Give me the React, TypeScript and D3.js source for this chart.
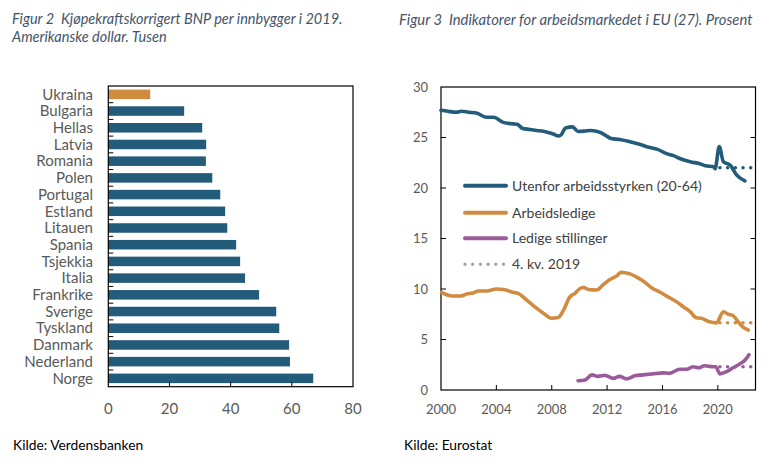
import * as d3 from "d3";

// Figur 2: BNP per innbygger (PPP), tusen USD, 2019
const COUNTRIES = [
  "Ukraina", "Bulgaria", "Hellas", "Latvia", "Romania", "Polen", "Portugal", "Estland", "Litauen",
  "Spania", "Tsjekkia", "Italia", "Frankrike", "Sverige", "Tyskland", "Danmark", "Nederland", "Norge",
];
const GDP = [13.7, 24.8, 30.7, 32.0, 31.9, 34.0, 36.6, 38.2, 38.9, 41.8, 43.1, 44.7, 49.3, 54.9, 55.9, 59.1, 59.4, 67.0];
const GDP_TICKS = [0, 20, 40, 60, 80];

// Figur 3: arbeidsmarkedet i EU (27), prosent
const UTENFOR: [number, number][] = [
  [2000.0, 27.7], [2000.5, 27.6], [2001.1, 27.5], [2001.5, 27.6], [2002.0, 27.5], [2002.6, 27.4],
  [2003.3, 27.0], [2003.8, 27.0], [2004.5, 26.5], [2004.9, 26.4], [2005.2, 26.35], [2005.5, 26.3],
  [2005.9, 25.9], [2006.4, 25.8], [2006.9, 25.7], [2007.6, 25.55], [2008.1, 25.35], [2008.5, 25.15],
  [2008.7, 25.3], [2009.0, 25.95], [2009.5, 26.05], [2009.9, 25.6], [2010.4, 25.65], [2010.8, 25.7],
  [2011.5, 25.5], [2011.9, 25.2], [2012.3, 24.9], [2012.9, 24.8], [2013.6, 24.6], [2014.0, 24.45],
  [2014.4, 24.3], [2015.1, 24.0], [2015.6, 23.85], [2016.3, 23.4], [2016.8, 23.2], [2017.3, 22.9],
  [2018.0, 22.6], [2018.7, 22.4], [2019.1, 22.2], [2019.7, 22.1], [2019.8, 21.9], [2020.1, 24.1],
  [2020.4, 22.6], [2020.9, 22.25], [2021.35, 21.3], [2021.95, 20.7],
];
const ARBEIDSLEDIGE: [number, number][] = [
  [2000.05, 9.66], [2000.8, 9.3], [2001.4, 9.3], [2001.85, 9.5], [2002.3, 9.6], [2002.7, 9.8],
  [2003.3, 9.8], [2004.0, 10.0], [2004.7, 9.9], [2005.1, 9.7], [2005.6, 9.55], [2006.2, 8.9],
  [2006.9, 8.1], [2007.3, 7.7], [2008.0, 7.1], [2008.5, 7.2], [2008.85, 7.9], [2009.3, 9.2],
  [2009.65, 9.55], [2010.05, 10.05], [2010.3, 10.15], [2010.65, 9.95], [2011.25, 9.9], [2011.7, 10.4],
  [2012.2, 10.95], [2012.7, 11.3], [2013.0, 11.65], [2013.65, 11.5], [2014.1, 11.2], [2014.6, 10.8],
  [2015.3, 10.05], [2015.8, 9.7], [2016.3, 9.3], [2017.0, 8.75], [2017.5, 8.25], [2018.0, 7.75],
  [2018.45, 7.15], [2018.8, 7.1], [2019.4, 6.75], [2019.9, 6.65], [2020.4, 7.75], [2020.75, 7.5],
  [2021.1, 7.35], [2021.45, 6.8], [2021.8, 6.25], [2022.2, 5.93],
];
const LEDIGE_STILLINGER: [number, number][] = [
  [2009.9, 0.92], [2010.4, 1.0], [2010.9, 1.5], [2011.35, 1.35], [2011.85, 1.45], [2012.45, 1.15],
  [2012.9, 1.35], [2013.4, 1.1], [2014.0, 1.4], [2014.6, 1.5], [2015.3, 1.6], [2016.05, 1.7],
  [2016.5, 1.65], [2017.25, 2.05], [2017.75, 2.05], [2018.2, 2.3], [2018.6, 2.2], [2019.05, 2.4],
  [2019.65, 2.3], [2019.85, 2.3], [2020.15, 1.6], [2020.6, 1.8], [2021.1, 2.2], [2021.6, 2.6],
  [2021.95, 2.95], [2022.25, 3.5],
];
// nivå 4. kv. 2019
const Q4_2019 = [22.0, 6.66, 2.3];
const Q4_2019_SPAN = [2020.15, 2022.55];
const YEAR_TICKS = [2000, 2004, 2008, 2012, 2016, 2020];
const PCT_TICKS = [0, 5, 10, 15, 20, 25, 30];

const BLUE = "#235B7B";
const ORANGE = "#D18B41";
const PURPLE = "#9B5B9B";
const GREY_DOT = "#A6A6A6";
const LABEL = "#595959";
const TITLE = "#44546A";
const FONT = "Lato, 'Open Sans', sans-serif";

const LEGEND = [
  { label: "Utenfor arbeidsstyrken (20-64)", colour: BLUE, dotted: false },
  { label: "Arbeidsledige", colour: ORANGE, dotted: false },
  { label: "Ledige stillinger", colour: PURPLE, dotted: false },
  { label: "4. kv. 2019", colour: GREY_DOT, dotted: true },
];

function BarChart() {
  const left = 108.3;
  const right = 353;
  const top = 86;
  const bottom = 386.7;
  const x = d3.scaleLinear().domain([0, 80]).range([left, right]);
  const y = d3.scaleBand<string>().domain(COUNTRIES).range([top, bottom]).paddingInner(0.43).paddingOuter(0.215);
  const step = y.step();

  return (
    <g>
      <text x={12} y={24} fill={TITLE} fontStyle="italic" fontSize={14.5} fontFamily={FONT}>
        Figur 2{"\u00a0\u00a0"}Kjøpekraftskorrigert BNP per innbygger i 2019.
      </text>
      <text x={12} y={42} fill={TITLE} fontStyle="italic" fontSize={14.5} fontFamily={FONT}>
        Amerikanske dollar. Tusen
      </text>

      {COUNTRIES.map((c, i) => (
        <g key={c}>
          <rect
            x={x(0)}
            y={y(c)}
            width={x(GDP[i]) - x(0)}
            height={y.bandwidth()}
            fill={c === "Ukraina" ? ORANGE : BLUE}
          />
          <text
            x={93}
            y={(y(c) ?? 0) + y.bandwidth() / 2}
            dy="0.35em"
            textAnchor="end"
            fill={LABEL}
            fontSize={15}
            fontFamily={FONT}
          >
            {c}
          </text>
        </g>
      ))}

      {d3.range(1, COUNTRIES.length).map((i) => (
        <line key={i} x1={left} x2={left + 5} y1={top + i * step} y2={top + i * step} stroke="#000" strokeWidth={1} />
      ))}
      {GDP_TICKS.slice(1, -1).map((t) => (
        <line key={t} x1={x(t)} x2={x(t)} y1={bottom} y2={bottom - 5} stroke="#000" strokeWidth={1} />
      ))}
      <rect x={left} y={top} width={right - left} height={bottom - top} fill="none" stroke="#000" strokeWidth={1.2} />

      {GDP_TICKS.map((t) => (
        <text key={t} x={x(t)} y={414} textAnchor="middle" fill={LABEL} fontSize={15} fontFamily={FONT}>
          {t}
        </text>
      ))}

      <text x={13} y={450} fill="#000" fontSize={13.8} fontFamily={FONT}>
        Kilde: Verdensbanken
      </text>
    </g>
  );
}

function LineChart() {
  const left = 441;
  const right = 755.5;
  const top = 87;
  const bottom = 390;
  const x = d3.scaleLinear().domain([2000, 2022.72]).range([left, right]);
  const y = d3.scaleLinear().domain([0, 30]).range([bottom, top]);
  const line = d3
    .line<[number, number]>()
    .x((d) => x(d[0]))
    .y((d) => y(d[1]))
    .curve(d3.curveMonotoneX);

  const series = [
    { data: UTENFOR, colour: BLUE },
    { data: ARBEIDSLEDIGE, colour: ORANGE },
    { data: LEDIGE_STILLINGER, colour: PURPLE },
  ];

  return (
    <g>
      <text x={399} y={25} fill={TITLE} fontStyle="italic" fontSize={14.8} fontFamily={FONT}>
        Figur 3{"\u00a0\u00a0"}Indikatorer for arbeidsmarkedet i EU (27). Prosent
      </text>

      {PCT_TICKS.slice(1, -1).map((t) => (
        <g key={t}>
          <line x1={left} x2={left + 5} y1={y(t)} y2={y(t)} stroke="#000" />
          <line x1={right} x2={right - 5} y1={y(t)} y2={y(t)} stroke="#000" />
        </g>
      ))}
      {YEAR_TICKS.slice(1).map((t) => (
        <line key={t} x1={x(t)} x2={x(t)} y1={bottom} y2={bottom - 5} stroke="#000" />
      ))}
      <rect x={left} y={top} width={right - left} height={bottom - top} fill="none" stroke="#000" strokeWidth={1.2} />

      {series.map((s, i) => (
        <line
          key={`q-${i}`}
          x1={x(Q4_2019_SPAN[0])}
          x2={x(Q4_2019_SPAN[1])}
          y1={y(Q4_2019[i])}
          y2={y(Q4_2019[i])}
          stroke={s.colour}
          strokeWidth={3.6}
          strokeLinecap="round"
          strokeDasharray="0 7.7"
        />
      ))}
      {series.map((s, i) => (
        <path
          key={`s-${i}`}
          d={line(s.data) ?? ""}
          fill="none"
          stroke={s.colour}
          strokeWidth={3.6}
          strokeLinejoin="round"
          strokeLinecap="round"
        />
      ))}

      {PCT_TICKS.map((t) => (
        <text key={t} x={428} y={y(t)} dy="0.35em" textAnchor="end" fill={LABEL} fontSize={13} fontFamily={FONT}>
          {t}
        </text>
      ))}
      {YEAR_TICKS.map((t) => (
        <text key={t} x={x(t)} y={414} textAnchor="middle" fill={LABEL} fontSize={13} fontFamily={FONT}>
          {t}
        </text>
      ))}

      {LEGEND.map((l, i) => {
        const cy = [185.7, 212.7, 238.3, 264.3][i];
        return (
          <g key={l.label}>
            <line
              x1={465}
              x2={506}
              y1={cy}
              y2={cy}
              stroke={l.colour}
              strokeWidth={l.dotted ? 3.4 : 4}
              strokeLinecap="round"
              strokeDasharray={l.dotted ? "0 7.7" : undefined}
            />
            <text x={512} y={cy} dy="0.35em" fill="#404040" fontSize={14} fontFamily={FONT}>
              {l.label}
            </text>
          </g>
        );
      })}

      <text x={404} y={450} fill="#000" fontSize={13.8} fontFamily={FONT}>
        Kilde: Eurostat
      </text>
    </g>
  );
}

export default function App() {
  return (
    <div style={{ position: "absolute", left: 0, top: 0 }}>
      <svg width={772} height={466} style={{ display: "block", background: "#fff" }}>
        <BarChart />
        <LineChart />
      </svg>
    </div>
  );
}
